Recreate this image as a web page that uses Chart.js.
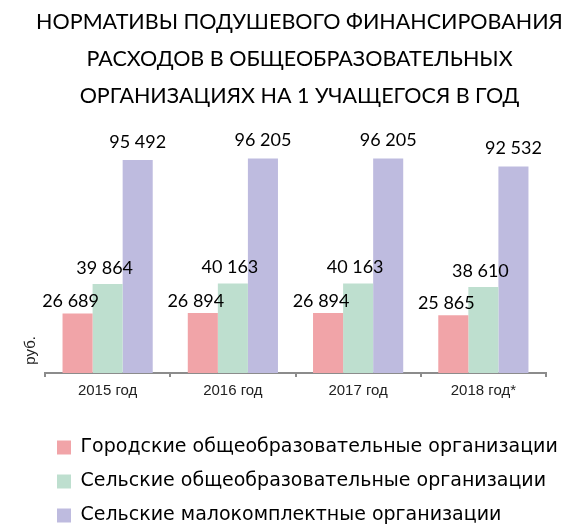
<!DOCTYPE html>
<html>
<head>
<meta charset="utf-8">
<script src="https://cdn.jsdelivr.net/npm/chart.js@4"></script>
<style>
  html, body { margin: 0; padding: 0; background: #fff; }
  #wrap { width: 569px; height: 529px; }
</style>
</head>
<body>
<div id="wrap"><canvas id="chart"></canvas></div>
<script>
// chart values
const years = ['2015 год', '2016 год', '2017 год', '2018 год*'];
const seriesNames = [
  'Городские общеобразовательные организации',
  'Сельские общеобразовательные организации',
  'Сельские малокомплектные организации'
];
const cityValues = [26689, 26894, 26894, 25865];
const ruralValues = [39864, 40163, 40163, 38610];
const smallValues = [95492, 96205, 96205, 92532];

const colors = ['#f1a4a8', '#bedfcf', '#bebbdf'];

// "26 689" style
function fmt(v) {
  return String(v).replace(/\B(?=(\d{3})+(?!\d))/g, ' ');
}

// draws the value above each bar (per-series nudges)
const labelNudge = [{ dx: -7, dy: 12 }, { dx: -3, dy: 16 }, { dx: 0, dy: 18 }];
const valueLabels = {
  id: 'valueLabels',
  afterDatasetsDraw(chart) {
    const ctx = chart.ctx;
    ctx.save();
    ctx.font = '18px Lato';
    ctx.fillStyle = '#000';
    ctx.textAlign = 'center';
    ctx.textBaseline = 'middle';
    chart.data.datasets.forEach((ds, i) => {
      chart.getDatasetMeta(i).data.forEach((bar, j) => {
        ctx.fillText(fmt(ds.data[j]), bar.x + labelNudge[i].dx, bar.y - labelNudge[i].dy);
      });
    });
    ctx.restore();
  }
};

// title and legend sit a bit right of the canvas centre/edge, like the original
const boxShift = {
  id: 'boxShift',
  afterLayout(chart) {
    chart.legend.left += 23;
    chart.legend.right += 23;
    chart.titleBlock.left += 17;
    chart.titleBlock.right += 17;
  }
};

new Chart(document.getElementById('chart'), {
  type: 'bar',
  data: {
    labels: years,
    datasets: [
      { label: seriesNames[0], data: cityValues, backgroundColor: colors[0] },
      { label: seriesNames[1], data: ruralValues, backgroundColor: colors[1] },
      { label: seriesNames[2], data: smallValues, backgroundColor: colors[2] }
    ]
  },
  options: {
    responsive: true,
    maintainAspectRatio: false,
    animation: false,
    layout: { padding: { left: 19, right: 23, top: 4, bottom: -6 } },
    datasets: { bar: { categoryPercentage: 0.72, barPercentage: 1 } },
    scales: {
      x: {
        grid: { drawOnChartArea: false, drawTicks: true, tickLength: 4, color: '#8c8c8c', lineWidth: 2 },
        border: { color: '#8c8c8c', width: 2 },
        ticks: { color: '#222', font: { family: 'Liberation Sans', size: 15 }, padding: 5 },
        afterFit(scale) { scale.height += 18; }
      },
      y: {
        min: 0,
        max: 100000,
        grid: { display: false, drawTicks: false },
        border: { display: false },
        ticks: { display: false },
        title: {
          display: true,
          text: '  руб.',
          align: 'start',
          color: '#222',
          font: { family: 'Liberation Sans', size: 15 },
          padding: { top: 3, bottom: 5 }
        }
      }
    },
    plugins: {
      tooltip: { enabled: false },
      title: {
        display: true,
        text: [
          'НОРМАТИВЫ ПОДУШЕВОГО ФИНАНСИРОВАНИЯ',
          'РАСХОДОВ В ОБЩЕОБРАЗОВАТЕЛЬНЫХ',
          'ОРГАНИЗАЦИЯХ НА 1 УЧАЩЕГОСЯ В ГОД'
        ],
        color: '#000',
        font: { family: 'Lato', size: 21.5, weight: 'normal', lineHeight: 1.72 },
        padding: { top: 0, bottom: 35 }
      },
      legend: {
        position: 'bottom',
        align: 'start',
        labels: {
          color: '#000',
          font: { family: 'DejaVu Sans', size: 19 },
          boxWidth: 14,
          boxHeight: 14,
          padding: 15
        }
      }
    }
  },
  plugins: [valueLabels, boxShift]
});
</script>
</body>
</html>
